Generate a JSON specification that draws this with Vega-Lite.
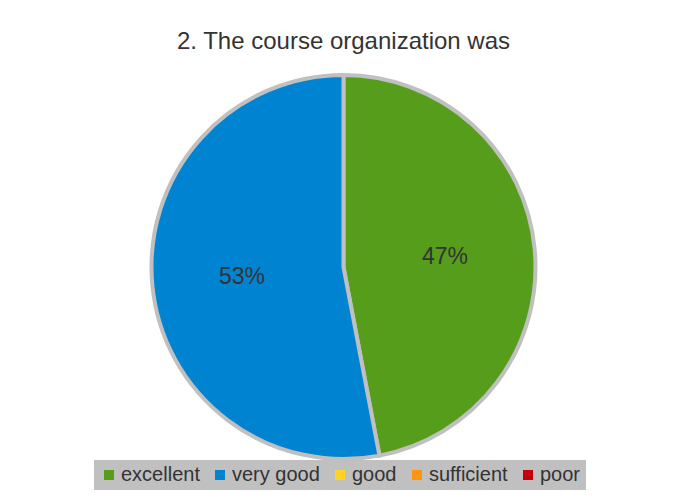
{
  "$schema": "https://vega.github.io/schema/vega-lite/v6.json",
  "width": 687,
  "height": 414,
  "autosize": "none",
  "padding": {"top": 60, "left": 0, "right": 0, "bottom": 24},
  "background": "white",
  "title": {
    "text": "2. The course organization was",
    "font": "Liberation Sans",
    "fontSize": 24,
    "fontWeight": "normal",
    "color": "#333333",
    "anchor": "middle",
    "offset": 6
  },
  "data": {
    "values": [
      {"rating": "excellent", "share": 47, "label": "47%"},
      {"rating": "very good", "share": 53, "label": "53%"}
    ]
  },
  "encoding": {
    "theta": {"field": "share", "type": "quantitative", "stack": true}
  },
  "layer": [
    {
      "mark": {"type": "arc", "outerRadius": 192, "stroke": "#c0c0c0", "strokeWidth": 4},
      "encoding": {
        "color": {
          "field": "rating",
          "type": "nominal",
          "scale": {
            "domain": ["excellent", "very good", "good", "sufficient", "poor"],
            "range": ["#579d1c", "#0084d1", "#ffd320", "#ff950e", "#c5000b"]
          },
          "sort": null,
          "legend": {
            "title": null,
            "orient": "none",
            "legendX": 94,
            "legendY": 400,
            "direction": "horizontal",
            "columns": 5,
            "fillColor": "#c0c0c0",
            "padding": 5,
            "symbolType": "square",
            "symbolSize": 100,
            "symbolStrokeWidth": 0,
            "labelFont": "Liberation Sans",
            "labelFontSize": 20,
            "labelColor": "#333333",
            "labelOffset": 2,
            "columnPadding": 10
          }
        }
      }
    },
    {
      "mark": {"type": "text", "radius": 102, "font": "Liberation Sans", "fontSize": 23, "color": "#333333"},
      "encoding": {
        "text": {"field": "label", "type": "nominal"}
      }
    }
  ]
}
